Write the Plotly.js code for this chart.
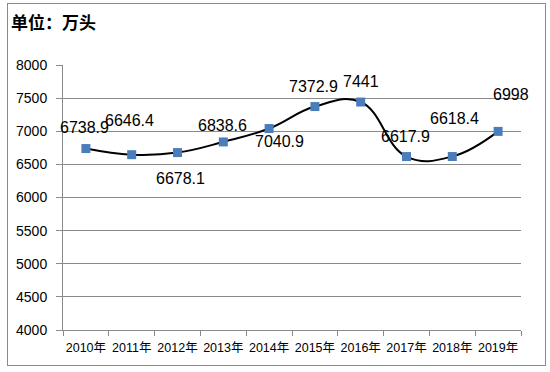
<!DOCTYPE html>
<html>
<head>
<meta charset="utf-8">
<script src="https://cdn.plot.ly/plotly-3.0.1.min.js"></script>
<style>
html,body{margin:0;padding:0;background:#fff;}
#wrap{position:relative;width:550px;height:372px;}
#chart{width:550px;height:372px;}
#frame{position:absolute;left:7px;top:3px;width:537px;height:361px;border:1px solid #8a8a8a;pointer-events:none;}
</style>
</head>
<body>
<div id="wrap"><div id="chart"></div><div id="frame"></div></div>
<script>
// Data
const years = ["2010年","2011年","2012年","2013年","2014年","2015年","2016年","2017年","2018年","2019年"];
const values = [6738.9, 6646.4, 6678.1, 6838.6, 7040.9, 7372.9, 7441, 6617.9, 6618.4, 6998];
const labels = ["6738.9","6646.4","6678.1","6838.6","7040.9","7372.9","7441","6617.9","6618.4","6998"];
const yTicks = [4000, 4500, 5000, 5500, 6000, 6500, 7000, 7500, 8000];

// Label placement offsets (pixels, dx right, dy down)
const labelOffsets = [[-1,-21],[-2,-34],[3,26],[-1,-16],[10,13],[-1,-20],[0,-21],[-1,-20],[2,-38],[13,-37]];

const font = "Liberation Sans, Arial, Noto Sans CJK SC, sans-serif";

const trace = {
  x: years, y: values, type: 'scatter', mode: 'lines+markers',
  line: {shape: 'spline', smoothing: 1.2, color: '#000000', width: 2},
  marker: {symbol: 'square', size: 9, color: '#4a7ebb', line: {width: 0}},
  hoverinfo: 'none', cliponaxis: false
};

const annotations = years.map((c, i) => ({
  x: c, y: values[i], xref: 'x', yref: 'y', text: labels[i], showarrow: false,
  xshift: labelOffsets[i][0], yshift: -labelOffsets[i][1],
  font: {family: font, size: 16, color: '#000'}
}));

const layout = {
  width: 550, height: 372,
  margin: {l: 63, r: 29, t: 65, b: 42},
  paper_bgcolor: '#fff', plot_bgcolor: '#fff',
  showlegend: false,
  title: {text: '<b>单位：万头</b>', xref: 'container', yref: 'container', x: 11/550, xanchor: 'left', y: 1 - 23/372, yanchor: 'middle',
          font: {family: 'Noto Sans CJK SC, sans-serif', size: 17, color: '#000'}},
  xaxis: {
    type: 'category', range: [-0.5, 9.5], autorange: false, automargin: false,
    tickson: 'boundaries', ticks: 'outside', ticklen: 5, tickcolor: '#8a8a8a', tickwidth: 1, tickangle: 0,
    showline: true, linecolor: '#8a8a8a', linewidth: 1, showgrid: false, zeroline: false,
    tickfont: {family: font, size: 12.5, color: '#000'}, ticklabelstandoff: 6, fixedrange: true
  },
  yaxis: {
    range: [4000, 8000], autorange: false, automargin: false, tickvals: yTicks, ticktext: yTicks.map(String),
    ticks: 'outside', ticklen: 6, tickcolor: '#8a8a8a', tickwidth: 1,
    showline: true, linecolor: '#8a8a8a', linewidth: 1,
    showgrid: true, gridcolor: '#8a8a8a', gridwidth: 1, zeroline: false,
    tickfont: {family: font, size: 14, color: '#000'}, ticklabelstandoff: 6, fixedrange: true
  },
  annotations: annotations
};

Plotly.newPlot('chart', [trace], layout, {displayModeBar: false, staticPlot: true});
</script>
</body>
</html>
